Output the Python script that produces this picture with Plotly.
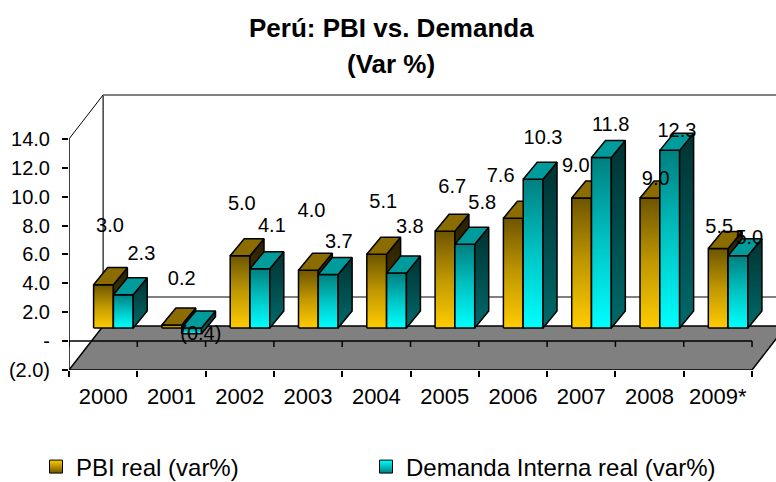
import plotly.graph_objects as go

# ---- data ----
years = ["2000", "2001", "2002", "2003", "2004", "2005", "2006", "2007", "2008", "2009*"]
pbi_real = [3.0, 0.2, 5.0, 4.0, 5.1, 6.7, 7.6, 9.0, 9.0, 5.5]
demanda_interna = [2.3, -0.4, 4.1, 3.7, 3.8, 5.8, 10.3, 11.8, 12.3, 5.0]
y_tick_values = [-2, 0, 2, 4, 6, 8, 10, 12, 14]
y_tick_labels = ["(2.0)", "-", "2.0", "4.0", "6.0", "8.0", "10.0", "12.0", "14.0"]

# ---- label placement (offsets relative to each bar, as in the original) ----
pbi_label_dx = [0.60, 0.65, 0.53, 0.55, 0.60, 0.61, 0.32, 0.42, 0.59, 0.52]
pbi_label_lift = [4.0, 3.1, 3.5, 4.05, 3.56, 2.97, 2.88, 2.13, 1.25, 1.4]
dem_label_dx = [1.06, 0.93, 0.97, 0.95, 0.99, 1.05, 0.94, 0.93, 0.90, 0.96]
dem_label_lift = [2.76, -0.09, 2.9, 2.2, 3.1, 2.8, 2.8, 2.2, 1.3, 1.15]

# ---- pseudo-3D geometry (axis units) ----
WALL_DX, WALL_DY = 0.5, 3.05      # full depth of the box
BASE = 0.91                       # bar baseline (depth shift of the bar row)
BAR_DX, BAR_DY = 0.205, 1.18      # depth of a bar
BAR_W = 0.29
PBI_OFF, DEM_OFF = 0.36, 0.65

FONT = "Liberation Sans, Arial, sans-serif"
W, H = 776, 482
ML, MR, MT, MB = 69, 0, 80, 112


def fmt(v):
    return "(%.1f)" % abs(v) if v < 0 else "%.1f" % v


fig = go.Figure()


def add_bar(i, v, off, front_cs, side_cs, top_color):
    x0 = i + off
    x1 = x0 + BAR_W
    b0 = BASE + min(v, 0)
    b1 = BASE + max(v, 0)
    common = dict(mode="lines", fill="toself", hoverinfo="skip", showlegend=False,
                  line=dict(color="black", width=1.5))
    fig.add_trace(go.Scatter(x=[x0, x1, x1, x0, x0], y=[b0, b0, b1, b1, b0],
                             fillgradient=dict(type="vertical", colorscale=front_cs), **common))
    fig.add_trace(go.Scatter(x=[x1, x1 + BAR_DX, x1 + BAR_DX, x1, x1],
                             y=[b0, b0 + BAR_DY, b1 + BAR_DY, b1, b0],
                             fillgradient=dict(type="vertical", colorscale=side_cs), **common))
    fig.add_trace(go.Scatter(x=[x0, x1, x1 + BAR_DX, x0 + BAR_DX, x0],
                             y=[b1, b1, b1 + BAR_DY, b1 + BAR_DY, b1],
                             fillcolor=top_color, **common))


pbi_front = [[0, "#FFCC00"], [0.5, "#C09800"], [1, "#6E5500"]]
pbi_side = [[0, "#5A4600"], [1, "#2A2000"]]
dem_front = [[0, "#00FFFF"], [0.5, "#00C4C4"], [1, "#007F7F"]]
dem_side = [[0, "#006A6A"], [1, "#003232"]]

for i in range(len(years)):
    add_bar(i, pbi_real[i], PBI_OFF, pbi_front, pbi_side, "#8A6C00")
    add_bar(i, demanda_interna[i], DEM_OFF, dem_front, dem_side, "#009C9C")

# data labels
lab_x, lab_y, lab_t = [], [], []
for i in range(len(years)):
    lab_x.append(i + pbi_label_dx[i])
    lab_y.append(BASE + pbi_real[i] + pbi_label_lift[i])
    lab_t.append(fmt(pbi_real[i]))
    lab_x.append(i + dem_label_dx[i])
    lab_y.append(BASE + demanda_interna[i] + dem_label_lift[i])
    lab_t.append(fmt(demanda_interna[i]))
fig.add_trace(go.Scatter(x=lab_x, y=lab_y, text=lab_t, mode="text", hoverinfo="skip",
                         showlegend=False, textfont=dict(family=FONT, size=20, color="black")))

# legend entries
fig.add_trace(go.Scatter(x=[None], y=[None], mode="markers", name="PBI real (var%)",
                         legend="legend",
                         marker=dict(symbol="square", size=13, color="#FFCC00",
                                     gradient=dict(type="vertical", color="#6E5500"),
                                     line=dict(color="black", width=1))))
fig.add_trace(go.Scatter(x=[None], y=[None], mode="markers", name="Demanda Interna real (var%)",
                         legend="legend2",
                         marker=dict(symbol="square", size=13, color="#00FFFF",
                                     gradient=dict(type="vertical", color="#007F7F"),
                                     line=dict(color="black", width=1))))

n = len(years)
shapes = [
    # floor
    dict(type="path", xref="x", yref="y", layer="below",
         path=f"M 0,-2 L {n},-2 L {n + WALL_DX},{-2 + WALL_DY} L {WALL_DX},{-2 + WALL_DY} Z",
         fillcolor="#808080", line=dict(color="black", width=1.5)),
    # back wall edges
    dict(type="line", xref="x", yref="y", layer="below", x0=WALL_DX, x1=WALL_DX,
         y0=-2 + WALL_DY, y1=14 + WALL_DY, line=dict(color="#404040", width=1.5)),
    dict(type="line", xref="x", yref="y", layer="below", x0=WALL_DX, x1=n + WALL_DX,
         y0=14 + WALL_DY, y1=14 + WALL_DY, line=dict(color="#808080", width=2)),
    dict(type="line", xref="x", yref="y", layer="below", x0=WALL_DX, x1=n + WALL_DX,
         y0=WALL_DY, y1=WALL_DY, line=dict(color="#808080", width=2)),
    dict(type="line", xref="x", yref="y", layer="below", x0=0, x1=WALL_DX,
         y0=14, y1=14 + WALL_DY, line=dict(color="black", width=1)),
    # front axis lines
    dict(type="line", xref="x", yref="y", layer="below", x0=0, x1=0,
         y0=-2, y1=14, line=dict(color="black", width=1.5)),
    dict(type="line", xref="x", yref="y", layer="below", x0=0, x1=n,
         y0=0, y1=0, line=dict(color="black", width=1.5)),
]
for k in range(n + 1):
    shapes.append(dict(type="line", xref="x", yref="y", layer="below", x0=k, x1=k,
                       y0=0, y1=-0.4, line=dict(color="black", width=1.5)))

legend_common = dict(orientation="h", xref="container", yref="container",
                     xanchor="left", y=(H - 467) / H, yanchor="middle",
                     font=dict(size=24, family=FONT, color="black"),
                     itemclick=False, bgcolor="rgba(0,0,0,0)")

fig.update_layout(
    width=W, height=H,
    margin=dict(l=ML, r=MR, t=MT, b=MB, autoexpand=False),
    paper_bgcolor="white", plot_bgcolor="white",
    shapes=shapes,
    font=dict(family=FONT, color="black"),
    xaxis=dict(range=[0, 10.351], showgrid=False, zeroline=False, showline=False,
               automargin=False,
               tickmode="array", tickvals=[k + 0.5 for k in range(n)], ticktext=years,
               ticks="", tickfont=dict(size=22, family=FONT, color="black"),
               ticklabelstandoff=11,
               minor=dict(tickmode="array", tickvals=list(range(n + 1)), ticks="outside",
                          ticklen=6, tickcolor="black", tickwidth=1.5, showgrid=False)),
    yaxis=dict(range=[-2, 18.083], showgrid=False, zeroline=False, showline=False,
               automargin=False,
               tickmode="array", tickvals=y_tick_values, ticktext=y_tick_labels,
               ticks="outside", ticklen=6, tickcolor="black", tickwidth=1.5,
               tickfont=dict(size=20, family=FONT, color="black"), ticklabelstandoff=8),
    legend=dict(x=36 / W, **legend_common),
    legend2=dict(x=366 / W, **legend_common),
    annotations=[
        dict(text="<b>Perú: PBI vs. Demanda</b>", xref="paper", yref="paper",
             x=(391 - ML) / (W - ML - MR), y=(H - MB - 28) / (H - MT - MB),
             xanchor="center", yanchor="middle",
             showarrow=False, font=dict(size=26, family=FONT, color="black")),
        dict(text="<b>(Var %)</b>", xref="paper", yref="paper",
             x=(391 - ML) / (W - ML - MR), y=(H - MB - 64) / (H - MT - MB),
             xanchor="center", yanchor="middle",
             showarrow=False, font=dict(size=26, family=FONT, color="black")),
    ],
)

fig.write_html("out.html", config={"displayModeBar": False},
               post_script="document.body.style.margin='0';")
